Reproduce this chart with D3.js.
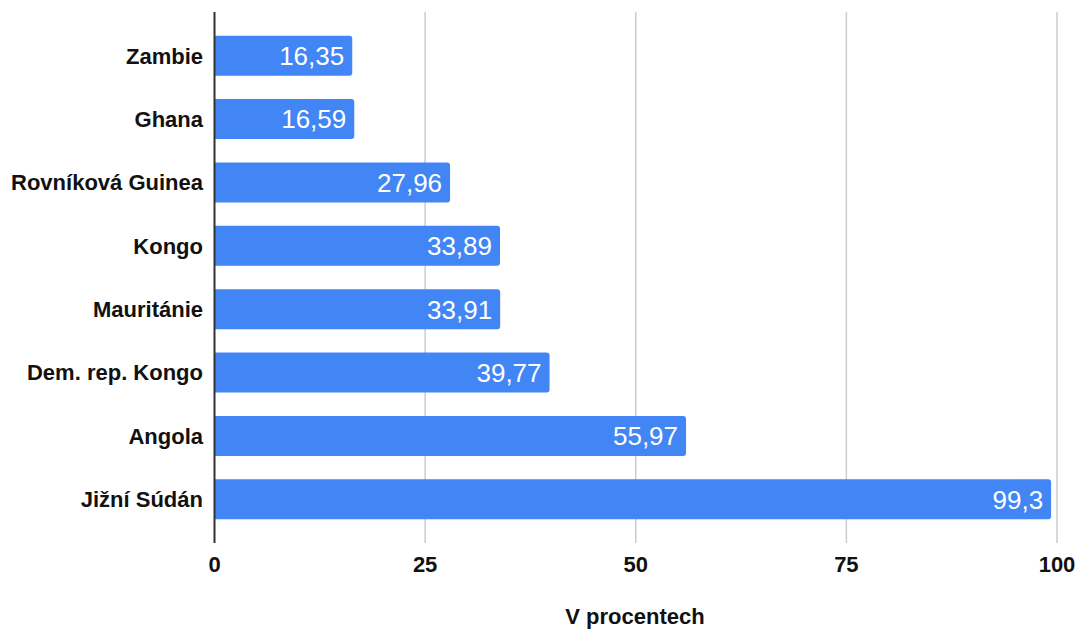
<!DOCTYPE html>
<html><head><meta charset="utf-8">
<script src="https://cdn.jsdelivr.net/npm/d3@7"></script>
<style>body{margin:0;background:#fff}svg{display:block;font-family:"Liberation Sans",Arial,sans-serif}</style>
</head><body><svg id="c" width="1076" height="631"></svg>
<script>
const categories = ["Zambie","Ghana","Rovníková Guinea","Kongo","Mauritánie","Dem. rep. Kongo","Angola","Jižní Súdán"];
const values = [16.35,16.59,27.96,33.89,33.91,39.77,55.97,99.3];
const tickValues = [0,25,50,75,100];
const axisTitle = "V procentech";

const svg = d3.select("#c");
const x = d3.scaleLinear().domain([0,100]).range([214.5,1057]);
const y = d3.scaleBand().domain(categories).range([12,543]).paddingInner(0.369).paddingOuter(0.375);

svg.append("g").selectAll("line").data(tickValues.filter(d=>d>0)).join("line")
  .attr("x1",d=>x(d)).attr("x2",d=>x(d)).attr("y1",12).attr("y2",543)
  .attr("stroke","#cccccc").attr("stroke-width",1.5);

function barPath(x0,x1,y0,h,r){
  return `M${x0},${y0}H${x1-r}Q${x1},${y0} ${x1},${y0+r}V${y0+h-r}Q${x1},${y0+h} ${x1-r},${y0+h}H${x0}Z`;
}
const data = categories.map((c,i)=>({c,v:values[i]}));
svg.append("g").selectAll("path").data(data).join("path")
  .attr("d",d=>barPath(x(0),x(d.v),y(d.c),y.bandwidth(),3))
  .attr("fill","#4285F4");

svg.append("g").selectAll("text").data(data).join("text")
  .attr("x",d=>x(d.v)-8).attr("y",d=>y(d.c)+y.bandwidth()/2)
  .attr("dy","0.36em").attr("text-anchor","end")
  .attr("fill","#fff").attr("font-size",26)
  .text(d=>String(d.v).replace(".",","));

svg.append("line").attr("x1",x(0)).attr("x2",x(0)).attr("y1",12).attr("y2",543)
  .attr("stroke","#333").attr("stroke-width",2);

svg.append("g").selectAll("text").data(categories).join("text")
  .attr("x",203).attr("y",d=>y(d)+y.bandwidth()/2).attr("dy","0.36em")
  .attr("text-anchor","end").attr("font-weight","bold").attr("font-size",22).attr("fill","#111")
  .text(d=>d);

svg.append("g").selectAll("text").data(tickValues).join("text")
  .attr("x",d=>x(d)).attr("y",572).attr("text-anchor","middle")
  .attr("font-weight","bold").attr("font-size",22).attr("fill","#111")
  .text(d=>d);

svg.append("text").attr("x",635).attr("y",624).attr("text-anchor","middle")
  .attr("font-weight","bold").attr("font-size",22).attr("fill","#111").text(axisTitle);
</script></body></html>
